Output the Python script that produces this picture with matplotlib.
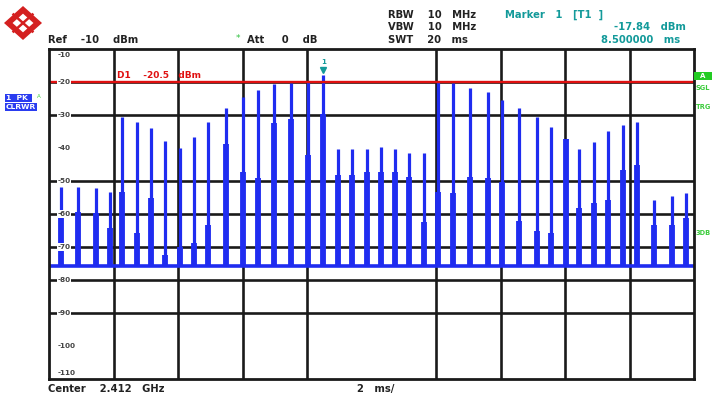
import matplotlib
matplotlib.use("Agg")
import matplotlib.pyplot as plt
import matplotlib.transforms as mtransforms
from matplotlib.patches import Polygon

burst_time_ms = [0.37, 0.90, 1.46, 1.89, 2.26, 2.73, 3.16, 3.60, 4.06, 4.50,
                 4.93, 5.49, 6.02, 6.48, 6.98, 7.50, 8.03, 8.50, 8.96, 9.40,
                 9.86, 10.30, 10.73, 11.16, 11.63, 12.06, 12.53, 13.05, 13.61, 14.05,
                 14.57, 15.13, 15.57, 16.03, 16.43, 16.90, 17.33, 17.80, 18.23, 18.76,
                 19.32, 19.75]
burst_peak_dbm = [-51.8, -51.8, -52.1, -53.3, -30.6, -32.1, -33.9, -37.9, -40.0, -36.7,
                  -32.1, -27.9, -24.5, -22.4, -20.6, -20.3, -20.0, -17.9, -40.3, -40.3,
                  -40.3, -39.7, -40.3, -41.5, -41.5, -20.0, -20.3, -21.8, -23.0, -25.5,
                  -27.9, -30.6, -33.6, -37.3, -40.3, -38.2, -34.8, -33.0, -32.1, -55.8,
                  -54.5, -53.6]
burst_body_dbm = [-59.4, -59.4, -59.7, -64.2, -53.3, -65.8, -55.2, -72.4, -70.0, -68.8,
                  -63.3, -38.8, -47.3, -49.1, -32.4, -31.2, -42.1, -29.7, -48.2, -48.2,
                  -47.3, -47.3, -47.3, -48.8, -62.4, -53.3, -53.6, -48.8, -49.1, -50.3,
                  -62.1, -65.2, -65.8, -37.3, -58.2, -56.7, -55.8, -46.7, -45.2, -63.3,
                  -63.3, -61.2]
noise_floor_dbm = -75.8
display_line_dbm = -20.0
y_labels = ["-10", "-20", "-30", "-40", "-50", "-60", "-70", "-80", "-90", "-100", "-110"]
y_levels = [-10, -20, -30, -40, -50, -60, -70, -80, -90, -100, -110]
vgrid_ms = [2, 4, 6, 8, 12, 14, 16, 18]
hgrid_dbm = [-20, -30, -50, -60, -70, -80, -90]
marker_index = 17

W, H = 726, 394
fig = plt.figure(figsize=(W / 100, H / 100), dpi=100)
fig.patch.set_facecolor("white")

def fx(px):
    return px / W

def fy(py):
    return 1 - py / H

ax = fig.add_axes([fx(49), 15 / H, 645 / W, 330 / H])
ax.set_xlim(0, 20)
ax.set_ylim(-110, -10)
ax.set_xticks([])
ax.set_yticks([])
for s in ax.spines.values():
    s.set_linewidth(2.0)
    s.set_color("#1a1a1a")
    s.set_zorder(6)

grid_c = "#1a1a1a"
ax.vlines(vgrid_ms, -110, -10, colors=grid_c, lw=1.9, zorder=1)
ax.hlines(hgrid_dbm, 0, 20, colors=grid_c, lw=1.9, zorder=1)

blue = "#1f2cf0"
# noise floor
ax.hlines(noise_floor_dbm, 0, 20, colors=blue, lw=2.6, zorder=3)
# burst bodies and peaks
ax.vlines(burst_time_ms, noise_floor_dbm, burst_body_dbm, colors=blue, lw=4.2, zorder=3)
ax.vlines(burst_time_ms, noise_floor_dbm, burst_peak_dbm, colors=blue, lw=2.3, zorder=3)

# display line
ax.axhline(display_line_dbm, color="#e01010", lw=1.7, zorder=5)
ax.text(0.105, display_line_dbm + 0.5, "D1    -20.5   dBm",
        transform=mtransforms.blended_transform_factory(ax.transAxes, ax.transData),
        color="#e01010", fontsize=6.5, fontweight="bold", va="bottom", ha="left", zorder=6)

# marker
teal = "#139a9a"
mt = burst_time_ms[marker_index]
mp = burst_peak_dbm[marker_index]
ax.plot([mt], [mp + 1.6], marker="v", color=teal, ms=4.5, zorder=7, clip_on=False)
ax.text(mt, mp + 3.2, "1", color=teal, fontsize=5, fontweight="bold", ha="center", va="bottom", zorder=7)

# y labels inside plot
tr = mtransforms.blended_transform_factory(ax.transAxes, ax.transData)
for lab, lev in zip(y_labels, y_levels):
    if lev == -10:
        va, off = "top", -0.8
    elif lev == -110:
        va, off = "bottom", 1.0
    else:
        va, off = "center", 0.0
    ax.text(0.013, lev + off, lab, transform=tr, fontsize=5.2, fontweight="bold",
            color="#444444", va=va, ha="left", zorder=6,
            bbox=dict(boxstyle="square,pad=0.1", fc="white", ec="none") if va == "center" else None)

# header texts
hdr = dict(fontsize=7.2, fontweight="bold", color="#222222", va="center")
fig.text(fx(48), fy(40), "Ref    -10    dBm", ha="left", **hdr)
fig.text(fx(236), fy(38), "*", ha="left", fontsize=6.5, color="#30c040", va="center")
fig.text(fx(247), fy(40), "Att     0    dB", ha="left", **hdr)
fig.text(fx(388), fy(15), "RBW    10   MHz", ha="left", **hdr)
fig.text(fx(388), fy(27), "VBW    10   MHz", ha="left", **hdr)
fig.text(fx(388), fy(40), "SWT    20   ms", ha="left", **hdr)
mk = dict(fontsize=7.2, fontweight="bold", color=teal, va="center")
fig.text(fx(505), fy(15), "Marker   1   [T1  ]", ha="left", **mk)
fig.text(fx(686), fy(27), "-17.84   dBm", ha="right", **mk)
fig.text(fx(680), fy(40), "8.500000   ms", ha="right", **mk)
fig.text(fx(48), fy(389), "Center    2.412   GHz", ha="left", **hdr)
fig.text(fx(357), fy(389), "2   ms/", ha="left", **hdr)

# left trace label box
fig.text(fx(6), fy(98), "1  PK ", ha="left", fontsize=5.4, fontweight="bold", color="white", va="center",
         bbox=dict(boxstyle="square,pad=0.15", fc="#2a3cf0", ec="none"))
fig.text(fx(6), fy(107), "CLRWR", ha="left", fontsize=5.4, fontweight="bold", color="white", va="center",
         bbox=dict(boxstyle="square,pad=0.15", fc="#2a3cf0", ec="none"))
fig.text(fx(37), fy(97), "A", ha="left", fontsize=4, color="#40d040", va="center")

# right status labels
green = "#3ccc3c"
fig.text(fx(695), fy(76), "  A  ", ha="left", fontsize=5, fontweight="bold", color="white", va="center",
         bbox=dict(boxstyle="square,pad=0.2", fc="#22cc22", ec="none"))
fig.text(fx(696), fy(88), "SGL", ha="left", fontsize=4.8, fontweight="bold", color=green, va="center")
fig.text(fx(696), fy(107), "TRG", ha="left", fontsize=4.8, fontweight="bold", color=green, va="center")
fig.text(fx(696), fy(233), "3DB", ha="left", fontsize=4.8, fontweight="bold", color=green, va="center")

# R&S style logo
lax = fig.add_axes([fx(4), fy(40), 38 / W, 34 / H])
lax.set_xlim(-1, 1)
lax.set_ylim(-1, 1)
lax.axis("off")
lax.add_patch(Polygon([[0, 1], [1, 0], [0, -1], [-1, 0]], closed=True, fc="#d42020", ec="none"))
lax.add_patch(Polygon([[0, 0.55], [0.55, 0], [0, -0.55], [-0.55, 0]], closed=True, fc="white", ec="none"))
lax.plot([-0.5, 0.5], [-0.5, 0.5], color="#d42020", lw=1.8)
lax.plot([-0.5, 0.5], [0.5, -0.5], color="#d42020", lw=1.8)

fig.savefig("out.png", dpi=100, facecolor="white")
